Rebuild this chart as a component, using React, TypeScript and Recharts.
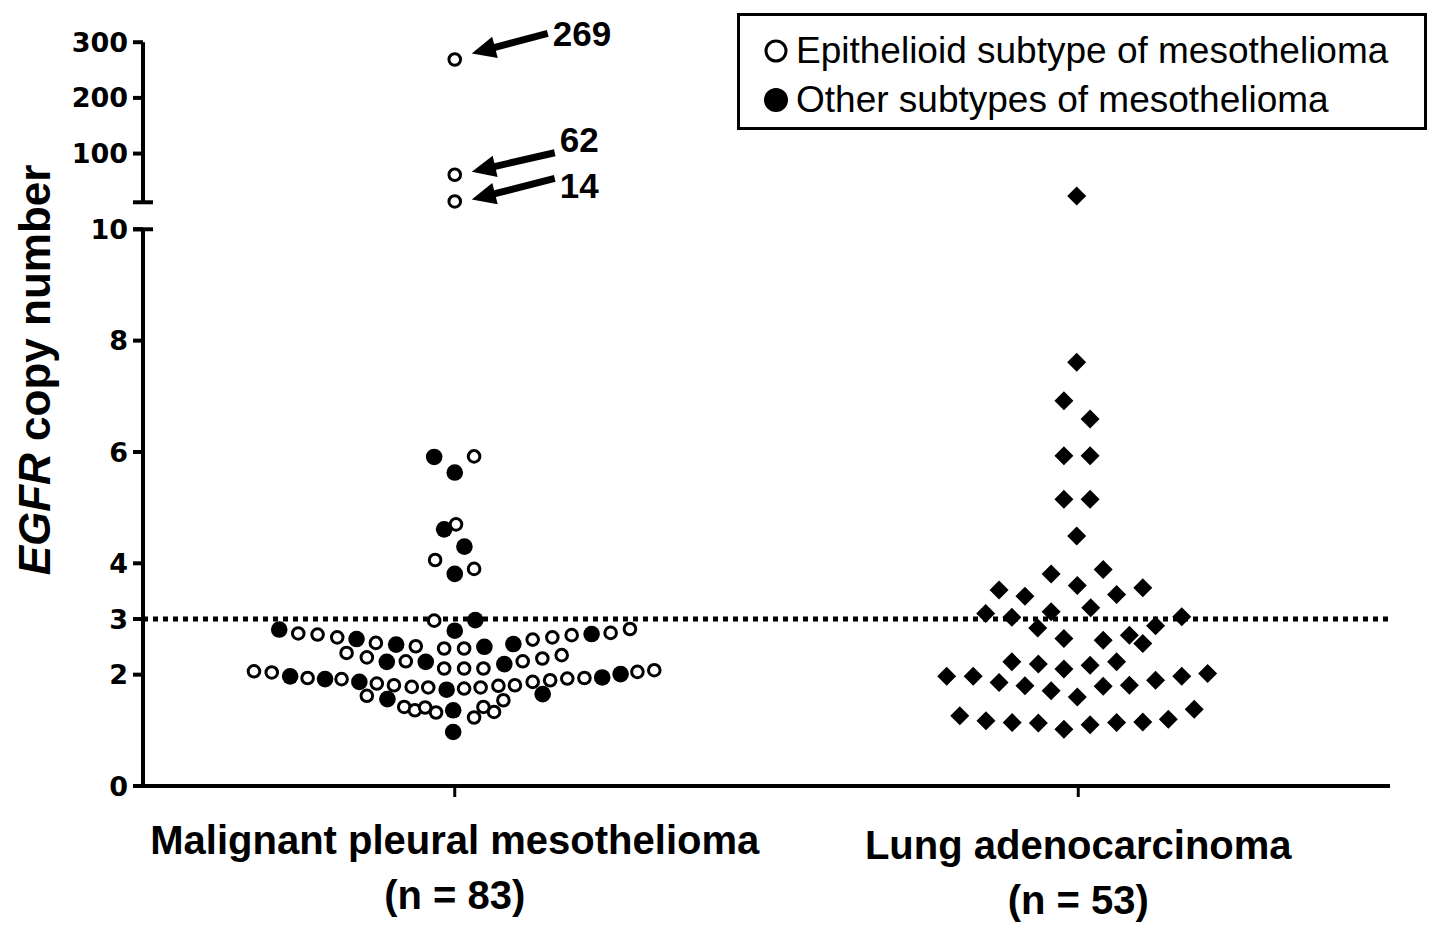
import React from "react";
import { ScatterChart, Scatter, XAxis, YAxis, ReferenceLine, Legend } from "recharts";

const groups = ["Malignant pleural mesothelioma", "Lung adenocarcinoma"];
const groupCounts = [83, 53];
const groupCenters = [1, 3];

const legendLabels = ["Epithelioid subtype of mesothelioma", "Other subtypes of mesothelioma"];

// [horizontal offset from the group centre (x-axis units), EGFR copy number]
const epithelioid: [number, number][] = [
  [0, 269], [0, 62], [0, 14],
  [0.062, 5.92], [0.004, 4.7], [-0.063, 4.06], [0.062, 3.9], [-0.066, 2.97],
  [-0.502, 2.74], [-0.44, 2.72], [-0.377, 2.67], [-0.253, 2.57], [-0.125, 2.51],
  [-0.347, 2.39], [-0.282, 2.31], [-0.157, 2.24], [-0.034, 2.47], [-0.034, 2.11],
  [-0.644, 2.06], [-0.587, 2.04], [-0.472, 1.94], [-0.363, 1.92], [-0.25, 1.84],
  [-0.195, 1.81], [-0.138, 1.78], [-0.085, 1.77], [-0.282, 1.62], [-0.162, 1.42],
  [-0.128, 1.36], [-0.095, 1.41], [-0.06, 1.32], [0.03, 2.47], [0.25, 2.63],
  [0.313, 2.67], [0.375, 2.71], [0.5, 2.75], [0.562, 2.82], [0.03, 2.11],
  [0.092, 2.11], [0.218, 2.24], [0.281, 2.29], [0.343, 2.35], [0.03, 1.75],
  [0.083, 1.77], [0.14, 1.8], [0.193, 1.81], [0.25, 1.87], [0.306, 1.9],
  [0.361, 1.93], [0.416, 1.94], [0.586, 2.05], [0.64, 2.08], [0.156, 1.54],
  [0.092, 1.42], [0.126, 1.33], [0.062, 1.23],
];

const otherSubtypes: [number, number][] = [
  [-0.066, 5.91], [0, 5.63], [-0.034, 4.61], [0.031, 4.3], [0, 3.81],
  [0.066, 2.98], [0, 2.79], [-0.563, 2.81], [-0.315, 2.64], [-0.188, 2.54],
  [-0.218, 2.23], [-0.093, 2.23], [-0.528, 1.97], [-0.416, 1.92], [-0.306, 1.87],
  [-0.026, 1.73], [-0.216, 1.56], [-0.005, 1.36], [-0.005, 0.97], [0.095, 2.5],
  [0.188, 2.55], [0.439, 2.73], [0.159, 2.19], [0.473, 1.95], [0.532, 2.01],
  [0.282, 1.65],
];

const adenocarcinoma: [number, number][] = [
  [-0.005, 24], [-0.005, 7.61], [-0.046, 6.92], [0.038, 6.59], [-0.046, 5.93],
  [0.038, 5.93], [-0.046, 5.15], [0.038, 5.15], [-0.005, 4.49],
  [-0.087, 3.81], [0.08, 3.89], [-0.254, 3.52], [-0.171, 3.41], [-0.003, 3.6],
  [0.123, 3.44], [0.207, 3.56], [-0.297, 3.1], [-0.213, 3.03], [-0.087, 3.13],
  [0.04, 3.2], [0.332, 3.04], [-0.13, 2.84], [0.248, 2.88], [-0.046, 2.65],
  [0.08, 2.62], [0.164, 2.71], [0.207, 2.56], [-0.213, 2.23], [-0.128, 2.19],
  [-0.046, 2.1], [0.038, 2.17], [0.123, 2.23], [-0.422, 1.97], [-0.337, 1.97],
  [-0.254, 1.86], [-0.171, 1.8], [-0.087, 1.71], [-0.003, 1.6], [0.08, 1.79],
  [0.164, 1.81], [0.248, 1.9], [0.332, 1.97], [0.415, 2.02], [-0.38, 1.26],
  [-0.296, 1.17], [-0.212, 1.14], [-0.128, 1.13], [-0.046, 1.02], [0.038, 1.1],
  [0.123, 1.14], [0.207, 1.15], [0.289, 1.2], [0.372, 1.38],
];

const lowerTicks = [0, 2, 3, 4, 6, 8, 10];
const upperTicks = [100, 200, 300];
const cutoff = 3;

// broken axis: 0-10 linear, above the break one axis unit = 100 copies
const BREAK_BASE = 10.36;
const UPPER_START = 10.485;
const toAxis = (v: number) => (v <= 10 ? v : BREAK_BASE + v / 100);
const fromAxis = (t: number) => (t <= 10.01 ? String(t) : String(Math.round((t - BREAK_BASE) * 100)));

const toPoints = (rows: [number, number][], center: number) =>
  rows.map(([dx, v]) => ({ x: center + dx, y: toAxis(v), value: v }));

const epiData = toPoints(epithelioid, groupCenters[0]);
const otherData = toPoints(otherSubtypes, groupCenters[0]);
const lungData = toPoints(adenocarcinoma, groupCenters[1]);

// callout placement relative to the point (tail, tip, label)
const callouts: Record<number, { tail: [number, number]; tip: [number, number]; label: [number, number] }> = {
  269: { tail: [93, -26], tip: [17, -6], label: [98, -13] },
  62: { tail: [100, -22], tip: [17, -3], label: [105, -23] },
  14: { tail: [100, -23], tip: [17, -2], label: [105, -3] },
};

function Arrow({ x1, y1, x2, y2 }: { x1: number; y1: number; x2: number; y2: number }) {
  const len = Math.hypot(x2 - x1, y2 - y1);
  const ux = (x2 - x1) / len;
  const uy = (y2 - y1) / len;
  const head = 24;
  const half = 11;
  const bx = x2 - ux * head;
  const by = y2 - uy * head;
  return (
    <g>
      <line x1={x1} y1={y1} x2={bx + ux * 2} y2={by + uy * 2} stroke="#000" strokeWidth={7} />
      <polygon
        points={`${x2},${y2} ${bx - uy * half},${by + ux * half} ${bx + uy * half},${by - ux * half}`}
        fill="#000"
      />
    </g>
  );
}

const OpenCircle = (props: any) => {
  const { cx, cy, payload } = props;
  const c = callouts[payload.value];
  return (
    <g>
      <circle cx={cx} cy={cy} r={5.8} fill="#fff" stroke="#000" strokeWidth={3} />
      {c && (
        <g>
          <Arrow x1={cx + c.tail[0]} y1={cy + c.tail[1]} x2={cx + c.tip[0]} y2={cy + c.tip[1]} />
          <text
            x={cx + c.label[0]}
            y={cy + c.label[1]}
            fontFamily="Liberation Sans, Arial, sans-serif"
            fontWeight="bold"
            fontSize={35}
            fill="#000"
          >
            {payload.value}
          </text>
        </g>
      )}
    </g>
  );
};

const FilledCircle = (props: any) => <circle cx={props.cx} cy={props.cy} r={8.3} fill="#000" />;

const Diamond = (props: any) => {
  const { cx, cy } = props;
  const h = 9.5;
  return <polygon points={`${cx},${cy - h} ${cx + h},${cy} ${cx},${cy + h} ${cx - h},${cy}`} fill="#000" />;
};

const GroupTick = (props: any) => {
  const { x, y, payload } = props;
  const i = groupCenters.indexOf(payload.value);
  const shift = i === 1 ? 5 : 0;
  return (
    <g fontFamily="Liberation Sans, Arial, sans-serif" fontWeight="bold" fontSize={40} fill="#000">
      <text x={x} y={y + 55 + shift} textAnchor="middle">
        {groups[i]}
      </text>
      <text x={x} y={y + 110 + shift} textAnchor="middle">
        (n = {groupCounts[i]})
      </text>
    </g>
  );
};

const AxisTitle = () => (
  <text
    x={50}
    y={370}
    transform="rotate(-90, 50, 370)"
    textAnchor="middle"
    fontFamily="Liberation Sans, Arial, sans-serif"
    fontWeight="bold"
    fontSize={44}
    fill="#000"
  >
    <tspan fontStyle="italic">EGFR</tspan> copy number
  </text>
);

const LegendBox = () => (
  <div
    style={{
      width: 690,
      height: 117,
      boxSizing: "border-box",
      border: "3px solid #000",
      background: "#fff",
      position: "relative",
      fontFamily: "Liberation Sans, Arial, sans-serif",
      fontSize: 37,
      color: "#000",
    }}
  >
    {legendLabels.map((label, i) => (
      <div
        key={label}
        style={{ position: "absolute", left: 23, top: i === 0 ? 12 : 61, height: 46, display: "flex", alignItems: "center" }}
      >
        <svg width={26} height={26} style={{ marginRight: 7 }}>
          {i === 0 ? (
            <circle cx={13} cy={13} r={10} fill="#fff" stroke="#000" strokeWidth={3} />
          ) : (
            <circle cx={13} cy={13} r={12} fill="#000" />
          )}
        </svg>
        <span style={{ whiteSpace: "nowrap", lineHeight: "46px" }}>{label}</span>
      </div>
    ))}
  </div>
);

const axisStroke = { stroke: "#000", strokeWidth: 4 };

export default function App() {
  return (
    <div style={{ position: "absolute", left: 0, top: 0, width: 1441, height: 933, background: "#fff" }}>
      <ScatterChart width={1441} height={933} margin={{ top: 40, right: 51, bottom: 27, left: 83 }}>
        <XAxis
          type="number"
          dataKey="x"
          domain={[0, 4]}
          ticks={groupCenters}
          interval={0}
          height={120}
          axisLine={axisStroke}
          tickLine={{ stroke: "#000", strokeWidth: 3 }}
          tickSize={11}
          tick={<GroupTick />}
        />
        <YAxis
          type="number"
          dataKey="y"
          domain={[0, 13.4]}
          ticks={[...lowerTicks, ...upperTicks.map(toAxis)]}
          tickFormatter={fromAxis}
          interval={0}
          width={60}
          axisLine={false}
          tickLine={axisStroke}
          tickSize={10}
          tickMargin={5}
          tick={{ fontFamily: "DejaVu Sans, sans-serif", fontWeight: "bold", fontSize: 27, fill: "#000" }}
          label={{ content: () => <AxisTitle /> }}
        />
        <ReferenceLine segment={[{ x: 0, y: 0 }, { x: 0, y: 10 }]} {...axisStroke} ifOverflow="visible" />
        <ReferenceLine
          segment={[{ x: 0, y: UPPER_START }, { x: 0, y: toAxis(300) }]}
          {...axisStroke}
          ifOverflow="visible"
        />
        <ReferenceLine segment={[{ x: -0.032, y: 10 }, { x: 0.032, y: 10 }]} {...axisStroke} ifOverflow="visible" />
        <ReferenceLine
          segment={[{ x: -0.032, y: UPPER_START }, { x: 0.032, y: UPPER_START }]}
          {...axisStroke}
          ifOverflow="visible"
        />
        <ReferenceLine y={cutoff} stroke="#000" strokeWidth={5} strokeDasharray="5 5" />
        <Legend
          layout="horizontal"
          verticalAlign="middle"
          content={() => <LegendBox />}
          wrapperStyle={{ position: "absolute", top: 13, left: 737, width: 690, height: 117 }}
        />
        <Scatter name={legendLabels[0]} data={epiData} shape={OpenCircle} isAnimationActive={false} />
        <Scatter name={legendLabels[1]} data={otherData} shape={FilledCircle} isAnimationActive={false} />
        <Scatter name={groups[1]} data={lungData} shape={Diamond} isAnimationActive={false} legendType="none" />
      </ScatterChart>
    </div>
  );
}
